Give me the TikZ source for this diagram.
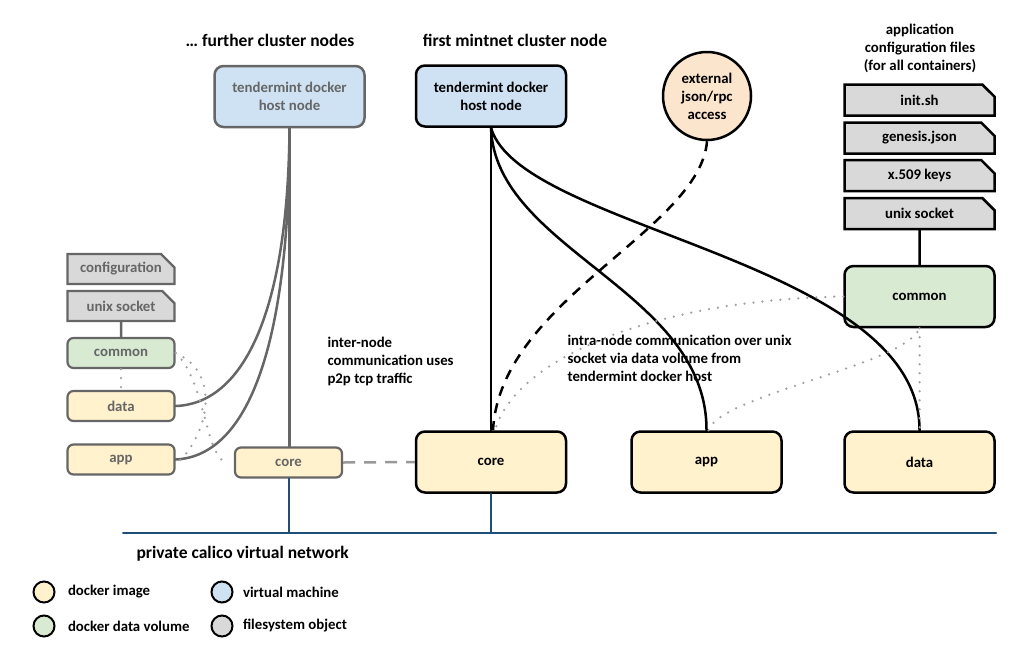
\documentclass[tikz,border=0pt]{standalone}
\usepackage{fontspec}
\setmainfont{Carlito}
\usepackage{tikz}
\usetikzlibrary{shapes.misc}
\definecolor{vmblue}{HTML}{CFE2F3}
\definecolor{imgyellow}{HTML}{FFF2CC}
\definecolor{volgreen}{HTML}{D9EAD3}
\definecolor{fsgray}{HTML}{D9D9D9}
\definecolor{extpeach}{HTML}{FCE5CD}
\definecolor{netblue}{HTML}{1F4E79}
\definecolor{fargray}{HTML}{666666}
\definecolor{dotgray}{HTML}{A0A0A0}

\begin{document}
\begin{tikzpicture}[x=1pt,y=-1pt,line cap=round,
	font=\fontsize{14.8}{18}\selectfont\bfseries,
	title/.style={font=\fontsize{17.5}{21}\selectfont\bfseries},
	box/.style={draw,line width=2.5pt,rounded corners=9pt,align=center,inner sep=2pt},
	bigbox/.style={box,minimum width=150pt,minimum height=61pt},
	smallbox/.style={box,line width=2.2pt,rounded corners=6pt,minimum width=107pt,minimum height=30pt},
	filebox/.style={draw,line width=2.5pt,fill=fsgray,chamfered rectangle,chamfered rectangle corners=north east,
		chamfered rectangle xsep=7pt,chamfered rectangle ysep=7pt,minimum width=150pt,minimum height=31pt,inner sep=0pt},
	smallfile/.style={filebox,line width=2.2pt,minimum width=107pt,minimum height=30pt},
	far/.style={draw=fargray,text=fargray},
	link/.style={line width=2.5pt},
	dotlink/.style={dotgray,line width=2.5pt,dash pattern=on 0pt off 9pt},
	legend/.style={circle,draw,line width=2pt,minimum size=21pt,inner sep=0pt}]
	\useasboundingbox (0,0) rectangle (1032,656);
	%% Titles
	\node[title] (titleB) at (270,40) {… further cluster nodes};
	\node[title] (titleA) at (515,40) {first mintnet cluster node};
	\node[align=center] (titleF) at (920,48) {application\\configuration files\\(for all containers)};
	%% Further cluster node
	\node[bigbox,far,fill=vmblue] (hostB) at (289.5,96.5) {tendermint docker\\host node};
	\node[smallfile,far] (confB) at (121,269) {configuration};
	\node[smallfile,far] (sockB) at (121,306) {unix socket};
	\node[smallbox,far,fill=volgreen] (commonB) at (121,353) {common};
	\node[smallbox,far,fill=imgyellow] (dataB) at (121,406) {data};
	\node[smallbox,far,fill=imgyellow] (appB) at (121,459.5) {app};
	\node[smallbox,far,fill=imgyellow] (coreB) at (288.5,462.5) {core};
	%% First cluster node
	\node[bigbox,fill=vmblue] (hostA) at (491,96) {tendermint docker\\host node};
	\node[circle,draw,line width=2.5pt,fill=extpeach,minimum size=88pt,align=center,inner sep=0pt] (ext) at (707,96) {external\\json/rpc\\access};
	\node[filebox] (init) at (919.5,100) {init.sh};
	\node[filebox] (genesis) at (919.5,138) {genesis.json};
	\node[filebox] (keys) at (919.5,175.5) {x.509 keys};
	\node[filebox] (sockA) at (919.5,213.5) {unix socket};
	\node[bigbox,fill=volgreen] (commonA) at (919.5,296.5) {common};
	\node[bigbox,fill=imgyellow] (coreA) at (491,462) {core};
	\node[bigbox,fill=imgyellow] (appA) at (706.5,462) {app};
	\node[bigbox,fill=imgyellow] (dataA) at (919.5,462) {data};
	%% Notes
	\node[anchor=north west,align=left] (inter) at (324,334) {inter-node\\communication uses\\p2p tcp traffic};
	\node[anchor=north west,align=left] (intra) at (564,332) {intra-node communication over unix\\socket via data volume from\\tendermint docker host};
	%% Network
	\coordinate (netL) at (123,533);
	\coordinate (netR) at (996,533);
	\draw[netblue,line width=2pt] (netL) -- (netR);
	\draw[netblue,line width=2pt] (coreB.south) -- (coreB.south |- netL);
	\draw[netblue,line width=2pt] (coreA.south) -- (coreA.south |- netL);
	\node[title,anchor=west] (net) at (133,554) {private calico virtual network};
	%% Links, further node
	\draw[fargray,link] (sockB) -- (commonB);
	\draw[fargray,link] (hostB.south) -- (hostB.south |- coreB.north);
	\draw[fargray,link] (hostB.south) .. controls (288,320) and (240,404) .. (dataB.east);
	\draw[fargray,link] (hostB.south) .. controls (290,340) and (250,456) .. (appB.east);
	\draw[dotlink] (commonB.south) -- (dataB.north);
	\draw[dotlink] (commonB.east) .. controls (225,375) and (205,440) .. ([yshift=-5pt]appB.east);
	\draw[dotlink] (commonB.east) .. controls (205,380) and (205,455) .. ([xshift=-8pt]coreB.west);
	\draw[gray!80,line width=2.5pt,dash pattern=on 12pt off 9pt,line cap=butt] (coreB.east) -- (coreA.west);
	%% Links, first node
	\draw[link] (sockA) -- (commonA);
	\draw[link] (hostA.south) -- (coreA.north);
	\draw[link] (hostA.south) .. controls (495,250) and (707,290) .. (appA.north);
	\draw[link] (hostA.south) .. controls (520,230) and (920,260) .. (dataA.north);
	\draw[link,dashed,dash pattern=on 10pt off 8pt,line cap=butt] (ext.south) .. controls (700,230) and (500,300) .. ([xshift=2pt]coreA.north);
	\draw[dotlink] (commonA.west) .. controls (650,300) and (515,360) .. ([xshift=4pt]coreA.north);
	\draw[dotlink] ([xshift=2pt]appA.north) .. controls (720,395) and (905,365) .. (commonA.south);
	\draw[dotlink] (commonA.south) -- (dataA.north);
	%% Legend
	\node[legend,fill=imgyellow] (lgimg) at (44,592) {};
	\node[anchor=west] at ([xshift=9pt]lgimg.east) {docker image};
	\node[legend,fill=volgreen] (lgvol) at (44,626) {};
	\node[anchor=west] at ([xshift=9pt]lgvol.east) {docker data volume};
	\node[legend,fill=vmblue] (lgvm) at (222,592) {};
	\node[anchor=west] at ([xshift=6pt]lgvm.east) {virtual machine};
	\node[legend,fill=fsgray] (lgfs) at (222,626) {};
	\node[anchor=west] at ([xshift=6pt]lgfs.east) {filesystem object};
\end{tikzpicture}
\end{document}
